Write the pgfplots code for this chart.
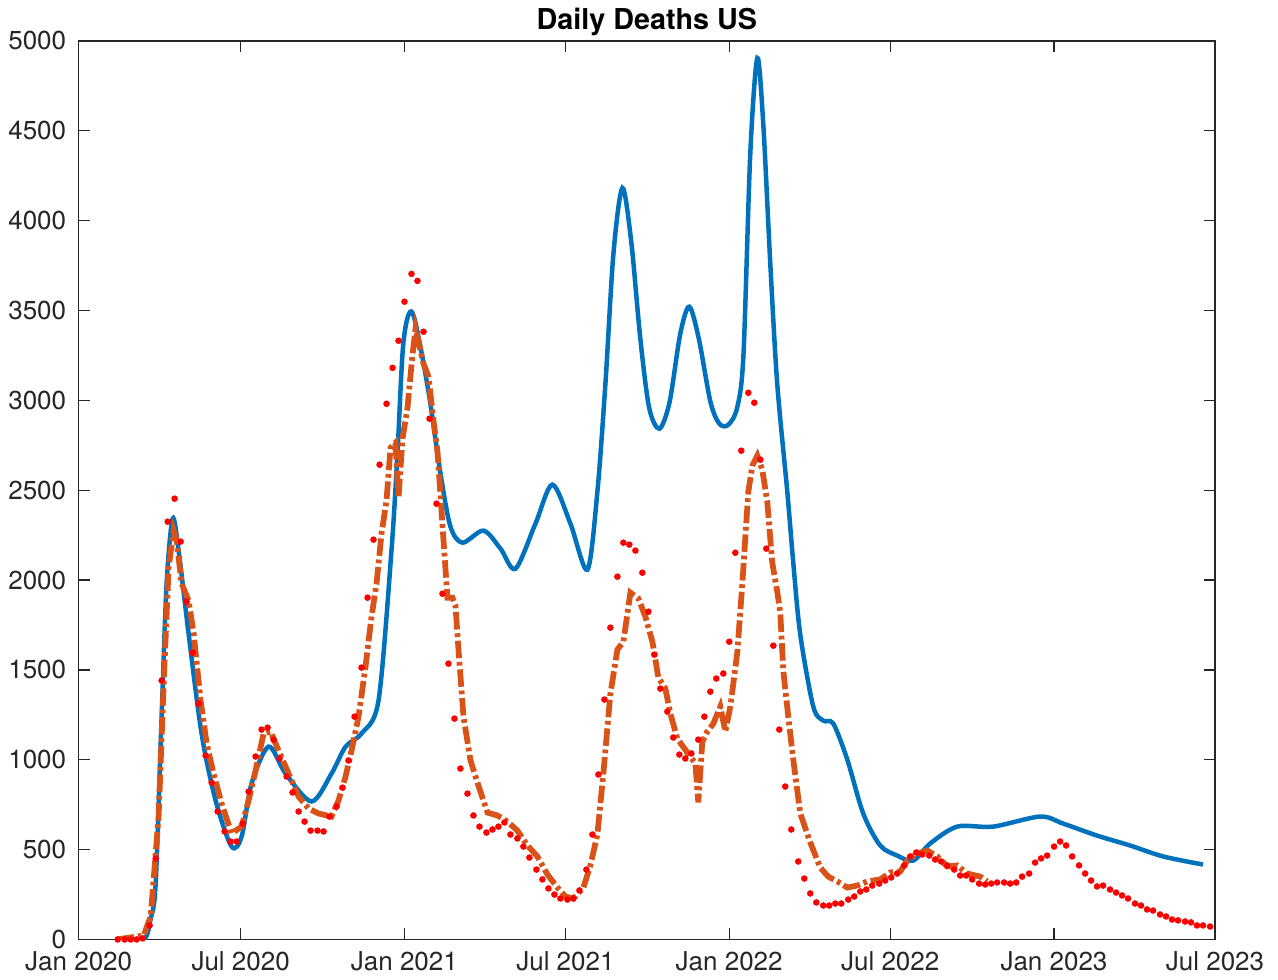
\documentclass[border=0pt]{standalone}
\usepackage{fontspec}
\setmainfont{TeX Gyre Heros}
\usepackage{pgfplots}
\pgfplotsset{compat=1.18}
\definecolor{mblue}{rgb}{0,0.447,0.741}
\definecolor{morange}{rgb}{0.85,0.325,0.098}
\definecolor{axgray}{rgb}{0.15,0.15,0.15}
\begin{document}
\begin{tikzpicture}
\begin{axis}[
 scale only axis, width=454.8pt, height=359.6pt,
 xmin=0, xmax=1277, ymin=0, ymax=5000,
 xtick={0,182,366,547,731,912,1096,1277},
 xticklabels={Jan 2020,Jul 2020,Jan 2021,Jul 2021,Jan 2022,Jul 2022,Jan 2023,Jul 2023},
 ytick={0,500,...,5000},
 tick align=inside, major tick length=4.4pt,
 tick pos=both,
 axis line style={axgray, line width=0.5pt},
 tick style={axgray, line width=0.5pt},
 ticklabel style={font=\fontsize{10.4}{12}\selectfont, text=axgray},
 xticklabel style={yshift=-1.4pt},
 yticklabel style={xshift=-1.5pt},
 /pgf/number format/assume math mode=true,
 /pgf/number format/1000 sep={},
 title={Daily Deaths US},
 title style={at={(0.5,1)}, anchor=base, yshift=-1.5pt, font=\bfseries\fontsize{11.5}{13}\selectfont, text=black},
]
\addplot[mblue, line width=1.8pt, smooth, tension=0.5] coordinates {
(43,0)(73,0)(80.9,117)(86.5,311)(93.2,1240)(98.8,1980)(105.6,2342)(112.3,2164)
(123.5,1702)(138.1,1146)(153.9,773)(171.8,517)(183.1,573)(194.3,868)(213.4,1073)
(232.5,923)(261.7,768)(284.1,923)(299.9,1073)(317.8,1146)(336.9,1329)(351.5,2164)
(358.3,2714)(365,3326)(375.1,3487)(392,3081)(406.6,2592)(417.8,2297)(431.3,2208)
(454.9,2275)(474,2175)(490.8,2063)(513.3,2314)(532.3,2531)(552.6,2314)(571.7,2058)
(582.9,2492)(591.9,3092)(600.9,3815)(611,4182)(621,3880)(631,3350)(641,2960)
(652.5,2842)(664,2990)(676,3370)(686.2,3521)(697,3340)(710,2990)(720,2870)(730,2864)
(740,2960)(747,3250)(754.7,4372)(762.6,4905)(769.3,4538)(777.2,3760)(785,3092)(796.3,2492)
(803,2097)(810.9,1696)(825.5,1296)(836.7,1218)(848,1201)(863.7,1001)(881.6,701)
(900.7,523)(919.8,467)(937.8,439)(956.9,534)(987.2,628)(1027.6,628)(1080.4,684)
(1106.2,645)(1144.4,578)(1181.5,523)(1218.6,462)(1263.5,417)
};
\addplot[morange, line width=2.3pt, dash pattern=on 7pt off 1.5pt on 1.5pt off 1.5pt] coordinates {
(42.7,0)(73,22)(80.9,128)(89.8,684)(95.5,1424)(101.1,2075)(106.7,2275)(110.1,2219)
(115.7,1980)(123.5,1886)(129.2,1702)(137,1329)(143.8,1090)(151.6,923)(160.6,756)
(171.8,590)(183.1,628)(190.9,773)(198.8,940)(207.8,1146)(215.6,1157)(224.6,1051)
(235.9,923)(247.1,795)(258.3,729)(269.5,701)(284.1,684)(292,773)(299.9,907)
(306.6,1051)(314.5,1240)(322.3,1518)(329.1,1797)(334.7,1980)(340.3,2258)(345.9,2442)
(350.4,2736)(356,2764)(359.4,2458)(363.9,2787)(369.5,2959)(375.1,3254)(378.5,3398)
(381.9,3326)(387.5,3204)(393.1,3131)(398.7,2887)(403.2,2714)(406.6,2470)(409.9,2225)
(414.4,1902)(420,1902)(423.4,1858)(426.8,1613)(432.4,1240)(440.3,996)(448.1,873)
(459.4,706)(470.6,690)(481.8,656)(493,606)(504.3,523)(515.5,462)(526.7,362)
(538,289)(547,239)(555.9,228)(567.2,289)(575,412)(582.9,584)(589.6,923)(597.5,1368)
(605.4,1613)(612.1,1657)(620,1930)(629,1897)(636.8,1797)(644.7,1657)(651.4,1457)
(659.3,1396)(664.9,1257)(672.7,1118)(684,1040)(693,979)(696.3,762)(700.8,1101)
(706.4,1157)(713.2,1201)(721,1296)(726.7,1157)(732.3,1296)(740.1,1596)(745.7,1975)
(749.1,2236)(752.5,2492)(757,2636)(762.6,2692)(768.2,2614)(773.8,2436)(779.4,2097)
(785,1936)(788.4,1819)(791.8,1496)(797.4,1240)(803,1001)(810.9,701)(822.1,540)
(833.3,400)(842.3,350)(852.4,323)(863.7,289)(874.9,300)(886.2,323)(900.7,334)
(912,373)(923.2,378)(931.1,439)(942.3,478)(953.5,495)(964.8,462)(976,406)
(987.2,412)(998.4,367)(1013,350)(1020.9,323)
};
\addplot[only marks, mark=*, mark size=1.1pt, red, mark options={fill=red, draw=none}] coordinates {
(43.8,0)(51.7,0)(58.4,0)(65.1,0)(71.9,6)(79.7,78)(86.5,450)(93.2,1441)(100,2325)
(107.8,2453)(114.6,2214)(121.3,1880)(128,1596)(134.8,1313)(142.6,1023)(149.4,873)
(156.1,712)(164,601)(170.7,545)(177.5,545)(184.2,645)(190.9,823)(198.8,1018)
(205.5,1168)(212.3,1179)(219,1112)(225.7,1007)(233.6,907)(240.3,818)(247.1,712)
(253.8,656)(260.6,606)(268.4,606)(275.2,601)(281.9,684)(289.8,740)(296.5,845)
(303.2,996)(310,1240)(317.8,1513)(324.6,1902)(331.3,2225)(338.1,2642)(345.9,2981)
(352.7,3181)(359.4,3332)(366.1,3549)(374,3704)(380.7,3665)(387.5,3382)(394.2,2898)
(402.1,2425)(408.8,1924)(415.5,1535)(422.3,1229)(429,951)(436.9,812)(443.6,690)
(450.4,628)(458.2,595)(465,612)(471.7,628)(478.4,651)(485.2,584)(493,562)(499.8,517)
(506.5,456)(514.4,389)(521.1,334)(527.9,284)(534.6,250)(541.3,228)(549.2,222)
(555.9,228)(562.7,273)(570.5,389)(577.3,584)(584,918)(590.8,1335)(597.5,1735)
(605.4,2019)(612.1,2208)(618.8,2197)(625.6,2164)(633.4,2041)(640.2,1824)(646.9,1585)
(653.6,1396)(661.5,1268)(668.2,1124)(675,1029)(681.7,1007)(688.5,1035)(696.3,1112)
(703.1,1240)(709.8,1379)(716.5,1452)(724.4,1480)(731.1,1657)(737.9,2152)(744.6,2720)
(752.5,3042)(759.2,2987)(766,2670)(772.7,2175)(780.6,1635)(787.3,1168)(794,851)
(800.8,612)(808.6,434)(815.4,339)(822.1,256)(828.9,206)(836.7,189)(843.4,189)
(850.2,200)(856.9,200)(864.8,222)(871.5,239)(878.3,267)(885,278)(891.7,300)
(899.6,311)(906.3,328)(913.1,345)(919.8,367)(927.7,412)(934.4,462)(941.2,484)
(947.9,473)(955.8,467)(962.5,445)(969.2,434)(976,412)(983.8,389)(990.6,356)
(997.3,356)(1004.1,334)(1011.9,311)(1018.7,306)(1025.4,311)(1032.1,317)(1040,317)
(1046.7,311)(1053.5,317)(1060.2,350)(1068.1,367)(1074.8,428)(1081.5,451)(1088.3,467)
(1096.1,517)(1102.9,545)(1109.6,523)(1116.4,462)(1124.2,412)(1131,367)(1137.7,328)
(1144.4,295)(1151.2,300)(1159,278)(1165.8,261)(1172.5,245)(1179.2,228)(1187.1,200)
(1193.8,189)(1200.6,167)(1207.3,161)(1215.2,139)(1221.9,128)(1228.7,111)(1235.4,106)
(1243.3,100)(1250,95)(1256.7,78)(1263.5,78)(1271.4,72)
};
\end{axis}
\path (current axis.south west) ++(-31.2pt,-15.2pt) rectangle ([shift={(25.2pt,14.8pt)}]current axis.north east);
\end{tikzpicture}
\end{document}
